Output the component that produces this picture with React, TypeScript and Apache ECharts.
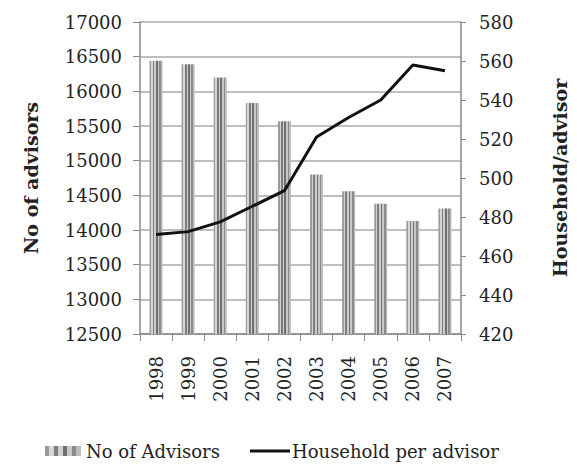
import React, { useEffect, useRef } from "react";
import * as echarts from "echarts";

const years = ["1998", "1999", "2000", "2001", "2002", "2003", "2004", "2005", "2006", "2007"];
const advisors = [16440, 16390, 16200, 15830, 15570, 14800, 14560, 14380, 14130, 14310];
const householdPerAdvisor = [471, 472.5, 477.5, 485.5, 493.5, 521, 531, 540, 558, 555];

const leftTicks = { min: 12500, max: 17000, interval: 500 };
const rightTicks = { min: 420, max: 580, interval: 20 };

const FONT = "DejaVu Serif";

function stripes() {
  const cols = ["#9a9a9a", "#d6d6d6", "#7c7c7c", "#cfcfcf", "#6f6f6f", "#c8c8c8", "#8a8a8a", "#bdbdbd"];
  const stops: { offset: number; color: string }[] = [];
  const n = cols.length;
  cols.forEach((c, i) => {
    stops.push({ offset: i / n, color: c });
    stops.push({ offset: (i + 1) / n, color: c });
  });
  return new echarts.graphic.LinearGradient(0, 0, 1, 0, stops);
}

export default function App() {
  const ref = useRef<HTMLDivElement>(null);
  useEffect(() => {
    if (!ref.current) return;
    const chart = echarts.init(ref.current, undefined, { renderer: "svg" });
    const axisText = { color: "#222", fontFamily: FONT, fontSize: 18 };
    const legendText = { color: "#222", fontFamily: FONT, fontSize: 18 };
    chart.setOption({
      animation: false,
      backgroundColor: "#fff",
      textStyle: { fontFamily: FONT },
      grid: { left: 140, right: 94, top: 22, bottom: 134, containLabel: false },
      legend: [
        {
          top: 442,
          left: 45,
          padding: 0,
          itemWidth: 36,
          itemHeight: 10,
          textStyle: legendText,
          data: [{ name: "No of Advisors", icon: "rect" }],
        },
        {
          top: 442,
          left: 250,
          padding: 0,
          itemWidth: 40,
          itemHeight: 3,
          textStyle: { ...legendText, padding: [0, 0, 0, -3] },
          data: [{ name: "Household per advisor", icon: "rect" }],
        },
      ],
      xAxis: {
        type: "category",
        data: years,
        boundaryGap: true,
        axisLine: { lineStyle: { color: "#888", width: 1.5 } },
        axisTick: { show: true, length: 7, lineStyle: { color: "#888" } },
        axisLabel: { ...axisText, rotate: 90, margin: 22 },
      },
      yAxis: [
        {
          type: "value",
          ...leftTicks,
          name: "No of advisors",
          nameLocation: "middle",
          nameRotate: 90,
          nameGap: 100,
          nameTextStyle: { color: "#222", fontFamily: FONT, fontSize: 19, fontWeight: "bold" },
          axisLine: { show: true, lineStyle: { color: "#888", width: 1.5 } },
          axisTick: { show: true, length: 7, lineStyle: { color: "#888" } },
          axisLabel: { ...axisText, margin: 18, formatter: (v: number) => String(v) },
          splitLine: { show: true, lineStyle: { color: "#aaa", width: 1.5 } },
        },
        {
          type: "value",
          ...rightTicks,
          position: "right",
          name: "Household/advisor",
          nameLocation: "middle",
          nameRotate: 90,
          nameGap: 89,
          nameTextStyle: { color: "#222", fontFamily: FONT, fontSize: 19, fontWeight: "bold" },
          axisLine: { show: true, lineStyle: { color: "#888", width: 1.5 } },
          axisTick: { show: true, length: 5, lineStyle: { color: "#888" } },
          axisLabel: { ...axisText, margin: 18, formatter: (v: number) => String(v) },
          splitLine: { show: false },
        },
      ],
      series: [
        {
          name: "No of Advisors",
          type: "bar",
          yAxisIndex: 0,
          data: advisors,
          barWidth: 13,
          itemStyle: { color: stripes() },
        },
        {
          name: "Household per advisor",
          type: "line",
          yAxisIndex: 1,
          data: householdPerAdvisor,
          showSymbol: false,
          symbol: "none",
          lineStyle: { color: "#111", width: 3 },
          itemStyle: { color: "#111" },
        },
      ],
    });
    return () => chart.dispose();
  }, []);
  return (
    <div
      ref={ref}
      style={{ position: "fixed", left: 0, top: 0, width: 577, height: 468, background: "#fff" }}
    />
  );
}
